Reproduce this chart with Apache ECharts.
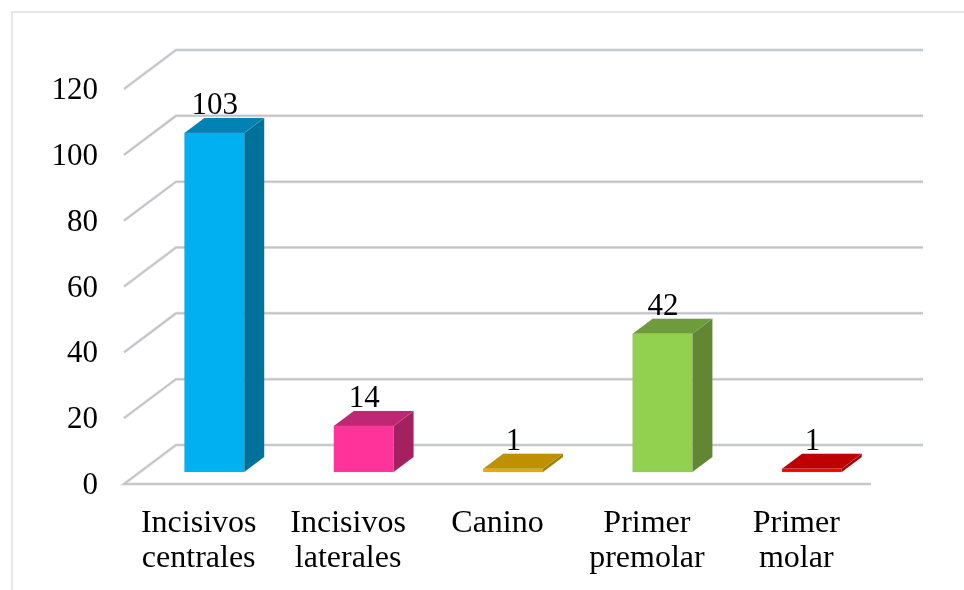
<!DOCTYPE html>
<html>
<head>
<meta charset="utf-8">
<style>
html, body { margin: 0; padding: 0; background: #fff; }
#main { width: 964px; height: 590px; }
</style>
<script src="https://cdn.jsdelivr.net/npm/echarts@6/dist/echarts.min.js"></script>
</head>
<body>
<div id="main"></div>
<script>
const categories = ['Incisivos\ncentrales', 'Incisivos\nlaterales', 'Canino', 'Primer\npremolar', 'Primer\nmolar']
const values = [103, 14, 1, 42, 1]
const ticks = [0, 20, 40, 60, 80, 100, 120]
// front, side, top
const barColors = [
    ['#00B0F0', '#00719B', '#0083B4'],
    ['#FF3399', '#A4215F', '#BF2673'],
    ['#E6AC00', '#A67C00', '#BF9000'],
    ['#92D050', '#628632', '#6E9C3C'],
    ['#FF0000', '#A50000', '#BF0000']
]

const fontName = '"Liberation Serif", "Times New Roman", serif'
const wallDx = 52, wallDy = 39     // depth of the floor
const barOffX = 15.6, barOffY = 12 // bar position inside the floor
const barDx = 20, barDy = 15       // depth of a bar

function renderGrid(params, api) {
    const cs = params.coordSys
    const y = api.coord([0, api.value(1)])[1]
    const left = cs.x, right = cs.x + cs.width
    const pts = api.value(1) === 0
        ? [[right, y], [left, y], [left + wallDx, y - wallDy], [right + wallDx, y - wallDy]]
        : [[left, y], [left + wallDx, y - wallDy], [right + wallDx, y - wallDy]]
    return {
        type: 'group',
        children: [
            { type: 'polyline', shape: { points: pts }, style: { fill: null, stroke: '#dfe0e3', lineWidth: 3 } },
            { type: 'polyline', shape: { points: pts }, style: { fill: null, stroke: '#c0c2c6', lineWidth: 1.5 } }
        ]
    }
}

function renderBar(params, api) {
    const i = api.value(0)
    const c = barColors[i]
    const base = api.coord([i, 0])
    const top = api.coord([i, api.value(1)])
    const w = api.size([1, 0])[0] * 0.4
    const x0 = base[0] - w / 2 + barOffX
    const x1 = x0 + w
    const y0 = base[1] - barOffY
    const y1 = top[1] - barOffY
    const edge = 'rgba(150,160,170,0.3)'
    return {
        type: 'group',
        children: [
            { type: 'polygon', shape: { points: [[x1, y0], [x1 + barDx, y0 - barDy], [x1 + barDx, y1 - barDy], [x1, y1]] }, style: { fill: c[1], stroke: edge, lineWidth: 0.5 } },
            { type: 'polygon', shape: { points: [[x0, y1], [x1, y1], [x1 + barDx, y1 - barDy], [x0 + barDx, y1 - barDy]] }, style: { fill: c[2], stroke: edge, lineWidth: 0.5 } },
            { type: 'rect', shape: { x: x0, y: y1, width: w, height: y0 - y1 }, style: { fill: c[0], stroke: edge, lineWidth: 0.5 } },
            { type: 'text', x: (x0 + x1) / 2 + 0.5, y: y1 - 27, style: { text: String(api.value(1)), font: '31px ' + fontName, fill: '#000', align: 'center', verticalAlign: 'middle' } }
        ]
    }
}

const chart = echarts.init(document.getElementById('main'), null, { renderer: 'canvas' })
chart.setOption({
    animation: false,
    backgroundColor: '#fff',
    graphic: [{
        type: 'rect', silent: true, z: -10,
        shape: { x: 12, y: 12, width: 1000, height: 700 },
        style: { fill: 'none', stroke: '#e4e7ec', lineWidth: 2 }
    }],
    grid: { left: 124, right: 93, top: 89, height: 395 },
    xAxis: {
        type: 'category',
        data: categories,
        axisLine: { show: false },
        axisTick: { show: false },
        axisLabel: { fontFamily: fontName, fontSize: 32, color: '#000', lineHeight: 35, margin: 22, interval: 0 }
    },
    yAxis: {
        type: 'value',
        min: 0,
        max: 120,
        interval: 20,
        axisLine: { show: false },
        axisTick: { show: false },
        splitLine: { show: false },
        // small line box aligned to the top pushes the digits just under the tick
        axisLabel: { fontFamily: fontName, fontSize: 31, color: '#000', margin: 26, verticalAlign: 'top', lineHeight: 4 }
    },
    series: [
        { type: 'custom', renderItem: renderGrid, data: ticks.map(t => [0, t]), clip: false, silent: true, z: 1 },
        { type: 'custom', renderItem: renderBar, data: values.map((v, i) => [i, v]), clip: false, silent: true, z: 2 }
    ]
})
window.addEventListener('resize', () => {
    chart.resize()
})
</script>
</body>
</html>
